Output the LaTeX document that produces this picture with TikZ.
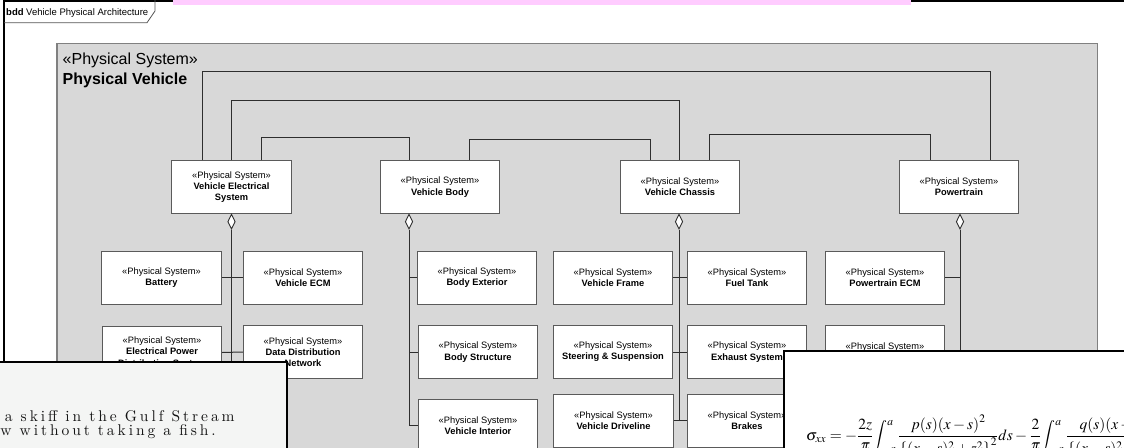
\documentclass[tikz,border=0pt]{standalone}
\usepackage{mathptmx}
\usepackage{fontspec}
\renewcommand{\rmdefault}{lmr}
\newfontfamily\arial{Liberation Sans}
\newfontfamily\quotefont[LetterSpace=19]{lmroman10-regular.otf}
\usetikzlibrary{shapes.geometric}
\definecolor{panelfill}{HTML}{D8D8D8}
\definecolor{panelline}{HTML}{808080}
\definecolor{boxline}{HTML}{5A5A5A}
\definecolor{wirecol}{HTML}{2E2E2E}
\definecolor{tabline}{HTML}{555555}
\definecolor{pinkbar}{HTML}{FFCCFF}
\definecolor{quotebg}{HTML}{F4F5F4}
\begin{document}
\begin{tikzpicture}[x=1pt,y=-1pt,
  part/.style={draw=boxline, fill=white, line width=0.9pt, minimum width=119.5pt,
    minimum height=53pt, inner sep=0pt, align=center,
    font=\arial\fontsize{9.3}{11.2}\selectfont},
  agg/.style={draw=wirecol, fill=white, shape=diamond, minimum width=7.5pt,
    minimum height=15pt, inner sep=0pt, line width=0.9pt},
  wire/.style={draw=wirecol, line width=1pt},
  quote/.style={inner sep=0pt, font=\quotefont\fontsize{15.5}{15.5}\selectfont, text=black!92},
]
\useasboundingbox (0,0) rectangle (1124,447);

% diagram frame and its name tab
\draw[line width=2pt] (4,-5) -- (4,460);
\draw[line width=1.5pt] (4,0.75) -- (1130,0.75);
\draw[draw=tabline, line width=0.8pt] (4,22.7) -- (147,22.7) -- (155,11) -- (155,0);
\node[anchor=base west, inner sep=0pt, font=\arial\fontsize{9.5}{11}\selectfont] (title)
  at (6,15.5) {\textbf{bdd} Vehicle Physical Architecture};

% owning block
\draw[fill=panelfill, draw=panelline, line width=1.5pt] (57,43.5) rectangle (1097.5,470);
\node[anchor=base west, inner sep=0pt, font=\arial\fontsize{16}{16}\selectfont] (stereo)
  at (62.5,64.5) {«Physical System»};
\node[anchor=base west, inner sep=0pt, font=\arial\bfseries\fontsize{16}{16}\selectfont] (pv)
  at (62.5,84) {Physical Vehicle};

% first-level parts
\node[part, minimum height=52.5pt] (ves) at (231.5,187) {«Physical System»\\\textbf{Vehicle Electrical}\\\textbf{System}};
\node[part, minimum height=52.5pt] (body) at (440,187) {«Physical System»\\\textbf{Vehicle Body}};
\node[part, minimum height=52.5pt] (chassis) at (680,187) {«Physical System»\\\textbf{Vehicle Chassis}};
\node[part, minimum height=52.5pt] (pt) at (959,187) {«Physical System»\\\textbf{Powertrain}};

% links between the first-level parts
\coordinate (r1) at (0,71);
\coordinate (r2) at (0,100);
\coordinate (r3) at (0,137);
\coordinate (r4) at (0,139);
\coordinate (r5) at (0,134);
\coordinate (vesA) at ([xshift=-29.5pt]ves.north);
\coordinate (vesB) at (ves.north);
\coordinate (vesC) at ([xshift=29.5pt]ves.north);
\coordinate (bodyA) at ([xshift=-31pt]body.north);
\coordinate (bodyB) at ([xshift=29pt]body.north);
\coordinate (chaA) at ([xshift=-30pt]chassis.north);
\coordinate (chaB) at ([xshift=-1pt]chassis.north);
\coordinate (chaC) at ([xshift=29pt]chassis.north);
\coordinate (ptA) at ([xshift=-29pt]pt.north);
\coordinate (ptB) at ([xshift=31pt]pt.north);
\draw[wire] (vesA) -- (vesA |- r1) -| (ptB);
\draw[wire] (vesB) -- (vesB |- r2) -| (chaB);
\draw[wire] (vesC) -- (vesC |- r3) -| (bodyA);
\draw[wire] (bodyB) -- (bodyB |- r4) -| (chaA);
\draw[wire] (chaC) -- (chaC |- r5) -| (ptA);

% electrical subsystems
\node[part] (battery) at (161.5,277.5) {«Physical System»\\\textbf{Battery}};
\node[part] (vecm) at (303,277.5) {«Physical System»\\\textbf{Vehicle ECM}};
\node[part] (epds) at (162,352.5) {«Physical System»\\\textbf{Electrical Power}\\\textbf{Distribution System}};
\node[part] (ddn) at (303,352) {«Physical System»\\\textbf{Data Distribution}\\\textbf{Network}};

% body subsystems
\node[part] (bext) at (477,277.5) {«Physical System»\\\textbf{Body Exterior}};
\node[part] (bstr) at (478,352) {«Physical System»\\\textbf{Body Structure}};
\node[part] (vint) at (478,425.8) {«Physical System»\\\textbf{Vehicle Interior}};

% chassis subsystems
\node[part] (vframe) at (613,277.5) {«Physical System»\\\textbf{Vehicle Frame}};
\node[part] (fuel) at (747,277.5) {«Physical System»\\\textbf{Fuel Tank}};
\node[part] (steer) at (613,352) {«Physical System»\\\textbf{Steering \& Suspension}};
\node[part] (exh) at (747,352) {«Physical System»\\\textbf{Exhaust System}};
\node[part] (drive) at (613.5,420.5) {«Physical System»\\\textbf{Vehicle Driveline}};
\node[part] (brakes) at (747,420.5) {«Physical System»\\\textbf{Brakes}};

% powertrain subsystems
\node[part] (ptecm) at (885,277.5) {«Physical System»\\\textbf{Powertrain ECM}};
\node[part] (pt2) at (885,352) {«Physical System»\\\mbox{}};

% composition trees
\node[agg, anchor=north] (vesd) at (ves.south) {};
\node[agg, anchor=north] (bodyd) at ([xshift=-31pt]body.south) {};
\node[agg, anchor=north] (chad) at ([xshift=-1pt]chassis.south) {};
\node[agg, anchor=north] (ptd) at ([xshift=1pt]pt.south) {};

\coordinate (vesend) at (231.5,440);
\draw[wire] (vesd.south) -- (vesend);
\draw[wire] (battery.east) -- (vecm.west);
\draw[wire] (epds.east) -- (ddn.west);

\draw[wire] (bodyd.south) |- (vint.west);
\draw[wire] (bodyd.south |- bext.west) -- (bext.west);
\draw[wire] (bodyd.south |- bstr.west) -- (bstr.west);

\draw[wire] (chad.south) |- (brakes.west);
\draw[wire] (vframe.east) -- (fuel.west);
\draw[wire] (steer.east) -- (exh.west);
\draw[wire] (drive.east) -- (brakes.west);

\coordinate (ptend) at (960,440);
\draw[wire] (ptd.south) -- (ptend);
\draw[wire] (ptecm.east) -- (ptecm.east -| ptd.south);

% quotation card
\draw[fill=quotebg, line width=2pt] (-10,362) rectangle (287,470);
\node[quote, anchor=base west] (q1) at (4.7,421.5) {a skiff in the Gulf Stream};
\node[quote, anchor=base east] (q2) at (216,435.5) {w without taking a fish.};

% formula card
\draw[fill=white, line width=2pt] (784,351) rectangle (1140,470);
\node[anchor=base west, inner sep=0pt, font=\fontsize{15.5}{15.5}\selectfont] (eq) at (806,440)
  {$\displaystyle \sigma_{xx}=-\frac{2z}{\pi}\!\int_{-a}^{a}\frac{p(s)\!\left(x-s\right)^{2}}{\left\{(x-s)^{2}+z^{2}\right\}^{2}}ds-\frac{2}{\pi}\!\int_{-a}^{a}\frac{q(s)\!\left(x-s\right)^{3}}{\left\{(x-s)^{2}+z^{2}\right\}^{2}}ds$};

% highlight strip along the top edge
\fill[pinkbar] (173,-1) rectangle (911,5);
\end{tikzpicture}
\end{document}
